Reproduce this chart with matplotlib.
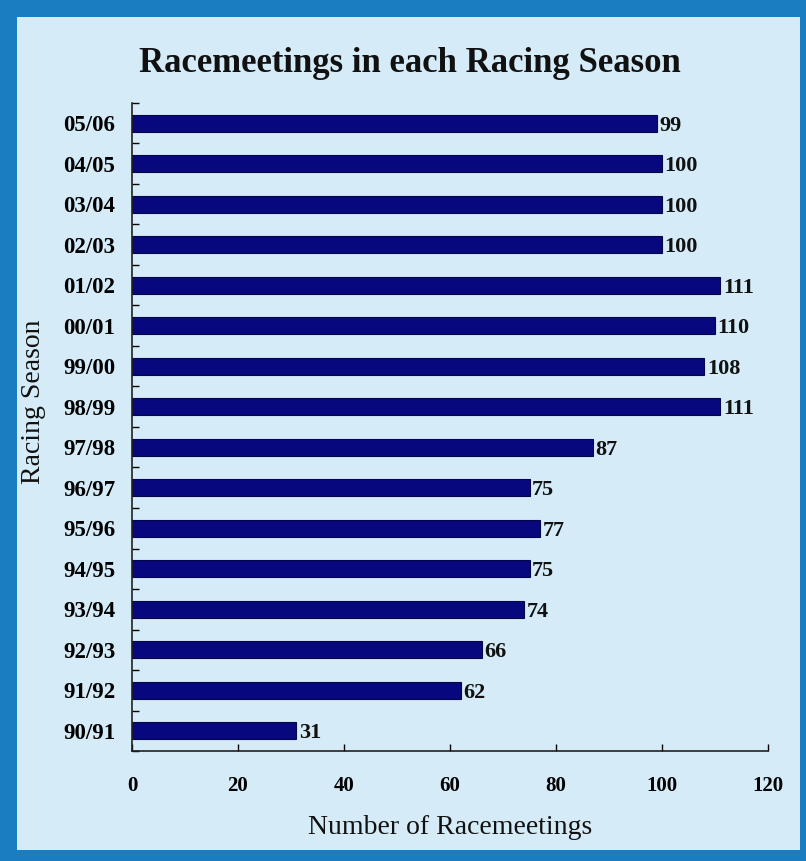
import numpy as np
import matplotlib
matplotlib.use("Agg")
import matplotlib.pyplot as plt
from matplotlib.patches import Rectangle

# Data (bottom to top)
seasons = ["90/91", "91/92", "92/93", "93/94", "94/95", "95/96", "96/97", "97/98",
           "98/99", "99/00", "00/01", "01/02", "02/03", "03/04", "04/05", "05/06"]
meetings = [31, 62, 66, 74, 75, 77, 75, 87, 111, 108, 110, 111, 100, 100, 100, 99]
xticks = [0, 20, 40, 60, 80, 100, 120]

plt.rcParams['font.family'] = ['Liberation Serif', 'DejaVu Serif']

fig = plt.figure(figsize=(8.06, 8.61), dpi=100)
fig.patch.set_facecolor("#1a7dc2")
# light inner panel
fig.patches.append(Rectangle((17/806, 11/861), (800-17)/806, (861-11-17)/861,
                             transform=fig.transFigure, facecolor="#d5ecf8",
                             edgecolor="none", zorder=-10))

ax = fig.add_axes([132/806, 110/861, 636/806, 648/861])
ax.set_facecolor("none")

y = np.arange(len(seasons))
ax.barh(y, meetings, height=0.42, color="#08087e", edgecolor="#05054a", linewidth=0.8)
for yi, v in zip(y, meetings):
    ax.text(v + 0.5, yi, str(v), va="center_baseline", ha="left", fontsize=16,
            fontweight="bold", color="#111111")

ax.set_xlim(0, 120)
ax.set_ylim(-0.5, len(seasons) - 0.5)
ax.set_xticks(xticks)
ax.set_xticklabels([str(t) for t in xticks], fontsize=15, fontweight="bold")
ax.set_yticks(y)
ax.set_yticklabels(seasons, fontsize=16.5, fontweight="bold")
ax.set_yticks(np.arange(-0.5, len(seasons), 1.0), minor=True)
ax.tick_params(axis="y", which="major", length=0, pad=12)
ax.tick_params(axis="y", which="minor", length=5, direction="in", width=1)
ax.tick_params(axis="x", which="major", length=5, direction="in", width=1, pad=18)

for s in ["top", "right"]:
    ax.spines[s].set_visible(False)
for s in ["left", "bottom"]:
    ax.spines[s].set_linewidth(1.2)
    ax.spines[s].set_color("#222222")

ax.set_xlabel("Number of Racemeetings", fontsize=20, color="#111111")
ax.set_ylabel("Racing Season", fontsize=20, color="#111111")
ax.xaxis.set_label_coords(0.5, -0.098)
ax.yaxis.set_label_coords(-0.135, 0.539)

fig.text(410/806, 1 - 63/861, "Racemeetings in each Racing Season", ha="center",
         va="center", fontsize=25, fontweight="bold", color="#111111")

fig.savefig("out.png", dpi=100, facecolor=fig.get_facecolor())
